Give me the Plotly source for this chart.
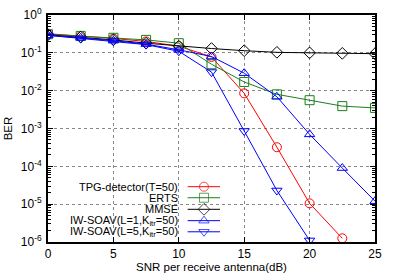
import plotly.graph_objects as go

snr = [0, 2.5, 5, 7.5, 10, 12.5, 15, 17.5, 20, 22.5, 25]
tpg = [0.32, 0.28, 0.24, 0.20, 0.15, 0.078, 0.0085, 3.2e-4, 1.05e-5, 1.25e-6]
erts = [0.31, 0.28, 0.25, 0.22, 0.18, 0.05, 0.017, 0.008, 0.0056, 0.0039, 0.0035]
mmse = [0.30, 0.26, 0.22, 0.18, 0.15, 0.13, 0.114, 0.103, 0.10, 0.097, 0.095]
iw_l1 = [0.29, 0.25, 0.21, 0.17, 0.12, 0.08, 0.029, 0.0069, 7.0e-4, 9.0e-5, 1.2e-5]
iw_l5 = [0.29, 0.24, 0.205, 0.165, 0.11, 0.031, 8.6e-4, 2.3e-5, 1.1e-6]

y_tickvals = [1, 1e-1, 1e-2, 1e-3, 1e-4, 1e-5, 1e-6]
y_ticktext = ["10<sup>0</sup>", "10<sup>-1</sup>", "10<sup>-2</sup>", "10<sup>-3</sup>",
              "10<sup>-4</sup>", "10<sup>-5</sup>", "10<sup>-6</sup>"]
x_tickvals = [0, 5, 10, 15, 20, 25]

names = ["TPG-detector(T=50)", "ERTS", "MMSE",
         "IW-SOAV(L=1,K<sub>itr</sub>=50)", "IW-SOAV(L=5,K<sub>itr</sub>=50)"]
series = [tpg, erts, mmse, iw_l1, iw_l5]
colors = ["#ff0000", "#1a7f1a", "#000000", "#0000ff", "#0000ff"]
symbols = ["circle-open", "square-open", "diamond-open", "triangle-up-open", "triangle-down-open"]

FONT = "Liberation Sans, Arial, sans-serif"
fig = go.Figure()
for ys, c, s in zip(series, colors, symbols):
    fig.add_trace(go.Scatter(x=snr[:len(ys)], y=ys, mode="lines+markers",
                             line=dict(color=c, width=1),
                             marker=dict(symbol=s, size=9, color=c, line=dict(color=c, width=1)),
                             showlegend=False))

# custom gnuplot-style key (text left, sample right)
key_rows = [0.2436, 0.195, 0.144, 0.094, 0.045]
key_x0, key_xm, key_x1, key_text = 0.427, 0.477, 0.526, 0.404
for n, c, s, r in zip(names, colors, symbols, key_rows):
    fig.add_trace(go.Scatter(x=[key_x0, key_xm, key_x1], y=[r, r, r], mode="lines+markers",
                             xaxis="x2", yaxis="y2",
                             line=dict(color=c, width=1),
                             marker=dict(symbol=s, size=[0, 9, 0], color=c, line=dict(color=c, width=1)),
                             showlegend=False, hoverinfo="skip"))
    fig.add_annotation(x=key_text, y=r, xref="paper", yref="paper", text=n,
                       showarrow=False, xanchor="right", yanchor="middle",
                       font=dict(family=FONT, size=11, color="black"))

fig.update_layout(
    width=398, height=278,
    margin=dict(l=48, r=23, t=15, b=36),
    paper_bgcolor="white", plot_bgcolor="white",
    font=dict(family=FONT, size=12, color="black"),
    xaxis=dict(range=[0, 25], tickvals=x_tickvals, automargin=False,
               tickfont=dict(size=12),
               showgrid=True, gridcolor="#888888", griddash="dot", gridwidth=1,
               showline=True, linecolor="black", linewidth=2, mirror="ticks",
               ticks="inside", ticklen=5, tickcolor="black", zeroline=False,
               title=dict(text="SNR per receive antenna(dB)", standoff=0,
                          font=dict(family=FONT, size=11.5))),
    yaxis=dict(type="log", range=[-6, 0], tickvals=y_tickvals, ticktext=y_ticktext,
               automargin=False, ticklabelstandoff=2, tickfont=dict(size=12),
               showgrid=True, gridcolor="#888888", griddash="dot", gridwidth=1,
               showline=True, linecolor="black", linewidth=2, mirror="ticks",
               ticks="inside", ticklen=5, tickcolor="black", zeroline=False,
               minor=dict(ticks="inside", ticklen=3, tickcolor="black", showgrid=False, dtick="D1"),
               title=dict(text="BER", standoff=6, font=dict(family=FONT, size=11.5))),
    xaxis2=dict(overlaying="x", range=[0, 1], visible=False),
    yaxis2=dict(overlaying="y", range=[0, 1], visible=False),
)

fig.write_html("out.html", config={"displayModeBar": False},
               post_script="document.body.style.margin='0';")
